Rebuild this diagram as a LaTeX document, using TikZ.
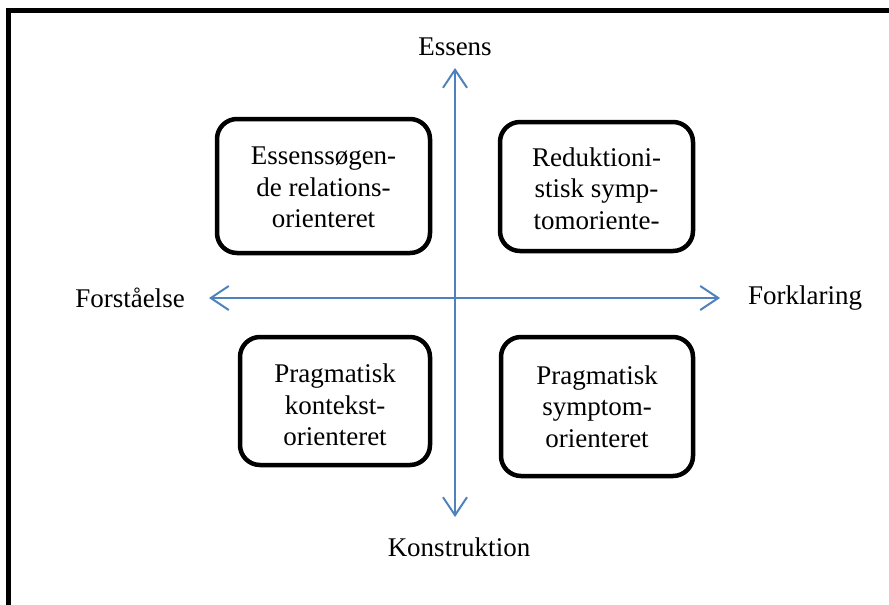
\documentclass[tikz,border=0pt]{standalone}
\usepackage{fontspec}
\setmainfont{Liberation Serif}
\usetikzlibrary{arrows.meta}
\definecolor{axisblue}{RGB}{79,129,189}
\newcommand{\qtext}[2]{\raisebox{-#1pt}[\height][\depth]{\begin{tabular}{@{}c@{}}#2\end{tabular}}}
\begin{document}
\begin{tikzpicture}[x=1pt,y=-1pt,
  quad/.style={draw=black, line width=4.5pt, rounded corners=20pt, align=center,
    font=\fontsize{27}{31.5}\selectfont, inner sep=0pt},
  lbl/.style={font=\fontsize{27}{31.5}\selectfont, inner sep=0pt},
  axis/.style={draw=axisblue, line width=2pt, {Straight Barb[length=18pt,width=24pt]}-{Straight Barb[length=18pt,width=24pt]}}]
\useasboundingbox (0,0) rectangle (889,605);
\fill[white] (0,0) rectangle (889,605);
% frame (open on right and bottom)
\draw[line width=5pt] (8.5,610) -- (8.5,10.5) -- (895,10.5);
% axes
\coordinate (top) at (455,68);
\coordinate (bot) at (455,517);
\coordinate (lft) at (209,298);
\coordinate (rgt) at (720,298);
\draw[axis] (top) -- (bot);
\draw[axis] (lft) -- (rgt);
% axis labels
\node[lbl] (ess) at (455,47) {Essens};
\node[lbl] (kon) at (459,547) {Konstruktion};
\node[lbl] (for) at (130,298) {Forståelse};
\node[lbl] (fork) at (805,298) {Forklaring};
% quadrant boxes
\node[quad, minimum width=213pt, minimum height=134pt] (b1) at (323.5,186) {\qtext{4}{Essenssøgen-\\de relations-\\orienteret}};
\node[quad, minimum width=193pt, minimum height=129pt] (b2) at (596.5,186.5) {\qtext{5}{Reduktioni-\\stisk symp-\\tomoriente-}};
\node[quad, minimum width=190pt, minimum height=128pt] (b3) at (335,401) {\qtext{7}{Pragmatisk\\kontekst-\\orienteret}};
\node[quad, minimum width=192pt, minimum height=139pt] (b4) at (597,406.5) {\qtext{3}{Pragmatisk\\symptom-\\orienteret}};
\end{tikzpicture}
\end{document}
